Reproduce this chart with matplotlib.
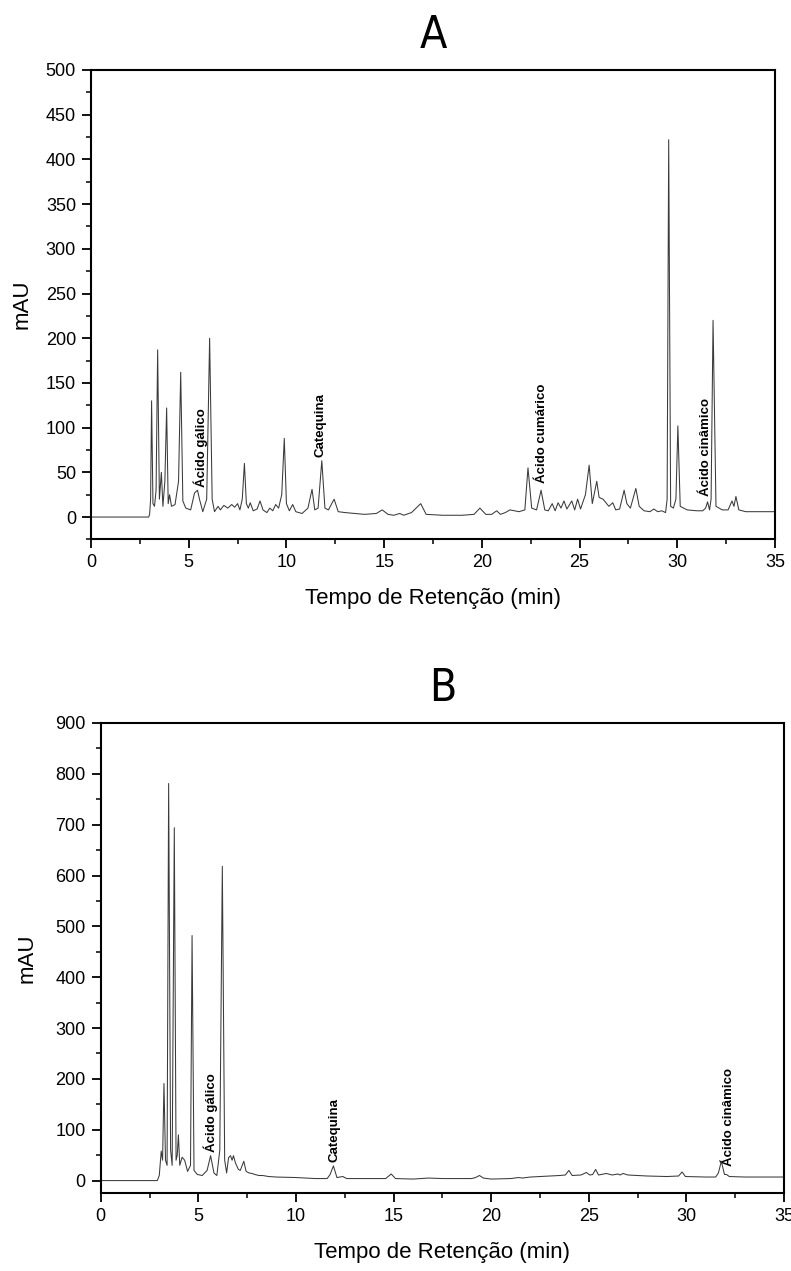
import matplotlib
matplotlib.use("Agg")
import matplotlib.pyplot as plt
from matplotlib.ticker import MultipleLocator

# cromatograma A: pontos (tempo em min, sinal em mAU)
pontos_a = [
    (0, 0), (2.95, 0), (3.0, 3), (3.05, 20), (3.1, 130), (3.17, 15), (3.25, 12), (3.33, 30),
    (3.41, 187), (3.5, 20), (3.6, 50), (3.68, 12), (3.78, 40), (3.87, 122), (3.95, 15),
    (4.02, 25), (4.12, 12), (4.3, 14), (4.48, 40), (4.59, 162), (4.7, 18), (4.85, 10),
    (5.1, 8), (5.3, 27), (5.45, 30), (5.55, 20), (5.72, 6), (5.92, 20), (6.07, 200),
    (6.2, 20), (6.32, 6), (6.5, 12), (6.62, 8), (6.8, 13), (7.0, 10), (7.2, 14), (7.35, 11),
    (7.5, 15), (7.62, 8), (7.74, 20), (7.85, 60), (7.95, 15), (8.05, 10), (8.15, 16),
    (8.3, 7), (8.5, 9), (8.65, 18), (8.8, 8), (9.0, 5), (9.15, 10), (9.3, 7), (9.45, 14),
    (9.6, 10), (9.76, 25), (9.89, 88), (10.0, 15), (10.15, 7), (10.32, 14), (10.48, 6),
    (10.8, 4), (11.1, 10), (11.31, 31), (11.45, 8), (11.62, 10), (11.81, 63), (11.97, 10),
    (12.15, 8), (12.44, 20), (12.65, 6), (13.0, 5), (13.5, 4), (14.0, 3), (14.6, 4),
    (14.9, 8), (15.2, 3), (15.5, 2), (15.8, 4), (16.0, 2), (16.4, 5), (16.87, 15),
    (17.15, 3), (18.0, 2), (19.0, 2), (19.6, 3), (19.9, 10), (20.2, 3), (20.5, 3),
    (20.76, 7), (20.95, 3), (21.2, 5), (21.44, 8), (21.9, 6), (22.2, 8), (22.36, 55),
    (22.55, 10), (22.8, 8), (23.03, 30), (23.22, 8), (23.4, 7), (23.6, 15), (23.75, 7),
    (23.9, 16), (24.05, 10), (24.2, 18), (24.35, 9), (24.6, 18), (24.75, 8), (24.9, 20),
    (25.05, 9), (25.3, 25), (25.49, 58), (25.65, 15), (25.88, 40), (26.0, 22), (26.2, 20),
    (26.35, 16), (26.5, 12), (26.7, 16), (26.85, 8), (27.05, 9), (27.28, 30), (27.42, 15),
    (27.6, 10), (27.88, 32), (28.05, 12), (28.3, 7), (28.6, 6), (28.8, 9), (29.0, 6),
    (29.2, 7), (29.4, 5), (29.48, 20), (29.56, 422), (29.66, 12), (29.8, 10), (29.93, 20),
    (30.03, 102), (30.15, 12), (30.5, 8), (31.0, 7), (31.3, 7), (31.45, 10), (31.55, 17),
    (31.65, 8), (31.73, 20), (31.83, 220), (31.98, 12), (32.3, 8), (32.6, 8), (32.8, 18),
    (32.9, 12), (33.0, 23), (33.15, 8), (33.5, 6), (35.0, 6),
]

# cromatograma B
pontos_b = [
    (0, 0), (2.9, 0), (3.0, 10), (3.1, 58), (3.17, 40), (3.24, 191), (3.32, 40), (3.4, 30),
    (3.48, 781), (3.58, 60), (3.66, 30), (3.77, 694), (3.86, 40), (3.92, 50), (3.98, 90),
    (4.05, 30), (4.17, 46), (4.3, 40), (4.45, 18), (4.6, 30), (4.68, 482), (4.78, 20),
    (4.95, 12), (5.2, 10), (5.45, 20), (5.63, 49), (5.8, 15), (5.95, 10), (6.1, 60),
    (6.23, 618), (6.35, 40), (6.45, 15), (6.55, 45), (6.65, 49), (6.73, 40), (6.8, 49),
    (6.9, 35), (7.05, 22), (7.15, 20), (7.33, 38), (7.45, 18), (7.6, 15), (7.75, 14),
    (7.9, 12), (8.1, 10), (8.3, 10), (8.6, 8), (9.0, 7), (10.0, 6), (11.0, 4), (11.6, 4),
    (11.75, 12), (11.92, 29), (12.1, 6), (12.4, 8), (12.6, 4), (13.0, 4), (14.0, 4),
    (14.6, 4), (14.88, 13), (15.1, 4), (16.0, 3), (16.8, 5), (17.5, 4), (19.0, 4),
    (19.2, 6), (19.4, 10), (19.6, 5), (20.0, 3), (21.0, 4), (21.4, 6), (21.6, 5), (22.0, 7),
    (22.5, 8), (23.0, 9), (23.5, 10), (23.8, 11), (23.98, 20), (24.15, 10), (24.6, 11),
    (24.88, 16), (25.05, 11), (25.2, 12), (25.35, 22), (25.5, 11), (25.9, 14), (26.2, 11),
    (26.5, 13), (26.6, 11), (26.76, 14), (27.0, 11), (28.0, 9), (29.0, 8), (29.6, 9),
    (29.78, 17), (29.95, 8), (31.0, 7), (31.5, 7), (31.64, 15), (31.79, 38), (31.95, 12),
    (32.05, 12), (32.2, 8), (33.0, 7), (35.0, 7),
]

tempo_a = [p[0] for p in pontos_a]
sinal_a = [p[1] for p in pontos_a]
tempo_b = [p[0] for p in pontos_b]
sinal_b = [p[1] for p in pontos_b]

# anotações dos compostos (nome, tempo, altura da base do texto)
nomes_a = ["Ácido gálico", "Catequina", "Ácido cumárico", "Ácido cinâmico"]
pos_a = [5.63, 11.72, 23.1, 31.47]
alt_a = [34, 67, 38, 23]
nomes_b = ["Ácido gálico", "Catequina", "Ácido cinâmico"]
pos_b = [5.66, 12.0, 32.2]
alt_b = [57, 36, 29]

W, H = 791, 1271
fig = plt.figure(figsize=(W / 100, H / 100), dpi=100)

narrow = ["Liberation Sans Narrow", "DejaVu Sans"]
arial = ["Liberation Sans", "DejaVu Sans"]


def painel(ax, t, s, nomes, pos, alt, ymax, ymaj, ymin, ylab_x, letra):
    ax.plot(t, s, color="#3a3a3a", lw=0.75)
    ax.set_xlim(0, 35)
    ax.set_ylim(-25, ymax)
    ax.xaxis.set_major_locator(MultipleLocator(5))
    ax.xaxis.set_minor_locator(MultipleLocator(2.5))
    ax.yaxis.set_major_locator(MultipleLocator(ymaj))
    ax.yaxis.set_minor_locator(MultipleLocator(ymin))
    ax.tick_params(which="major", direction="out", length=6.3, width=1.3, pad=4.5)
    ax.tick_params(which="minor", direction="out", length=3.4, width=1.1)
    for lab in ax.get_xticklabels() + ax.get_yticklabels():
        lab.set_family(arial)
        lab.set_fontsize(13)
    for sp in ax.spines.values():
        sp.set_linewidth(1.5)
    ax.set_xlabel("Tempo de Retenção (min)", family=arial, fontsize=16, labelpad=12)
    ax.set_ylabel("mAU", family=arial, fontsize=16)
    ax.yaxis.set_label_coords(ylab_x, 0.5)
    for n, x, y in zip(nomes, pos, alt):
        ax.text(x, y, n, rotation=90, ha="center", va="bottom", fontsize=9.5,
                fontweight="bold", family=arial)
    ax.set_title(letra, family=narrow, fontstretch="condensed", fontsize=32, pad=16)


ax_a = fig.add_axes([91 / W, 1 - 539.4 / H, 684 / W, 469.4 / H])
painel(ax_a, tempo_a, sinal_a, nomes_a, pos_a, alt_a, 500, 50, 25, -0.085, "A")

ax_b = fig.add_axes([100.7 / W, 1 - 1193.3 / H, 683.3 / W, 470.3 / H])
painel(ax_b, tempo_b, sinal_b, nomes_b, pos_b, alt_b, 900, 100, 50, -0.092, "B")

fig.savefig("out.png", dpi=100)
